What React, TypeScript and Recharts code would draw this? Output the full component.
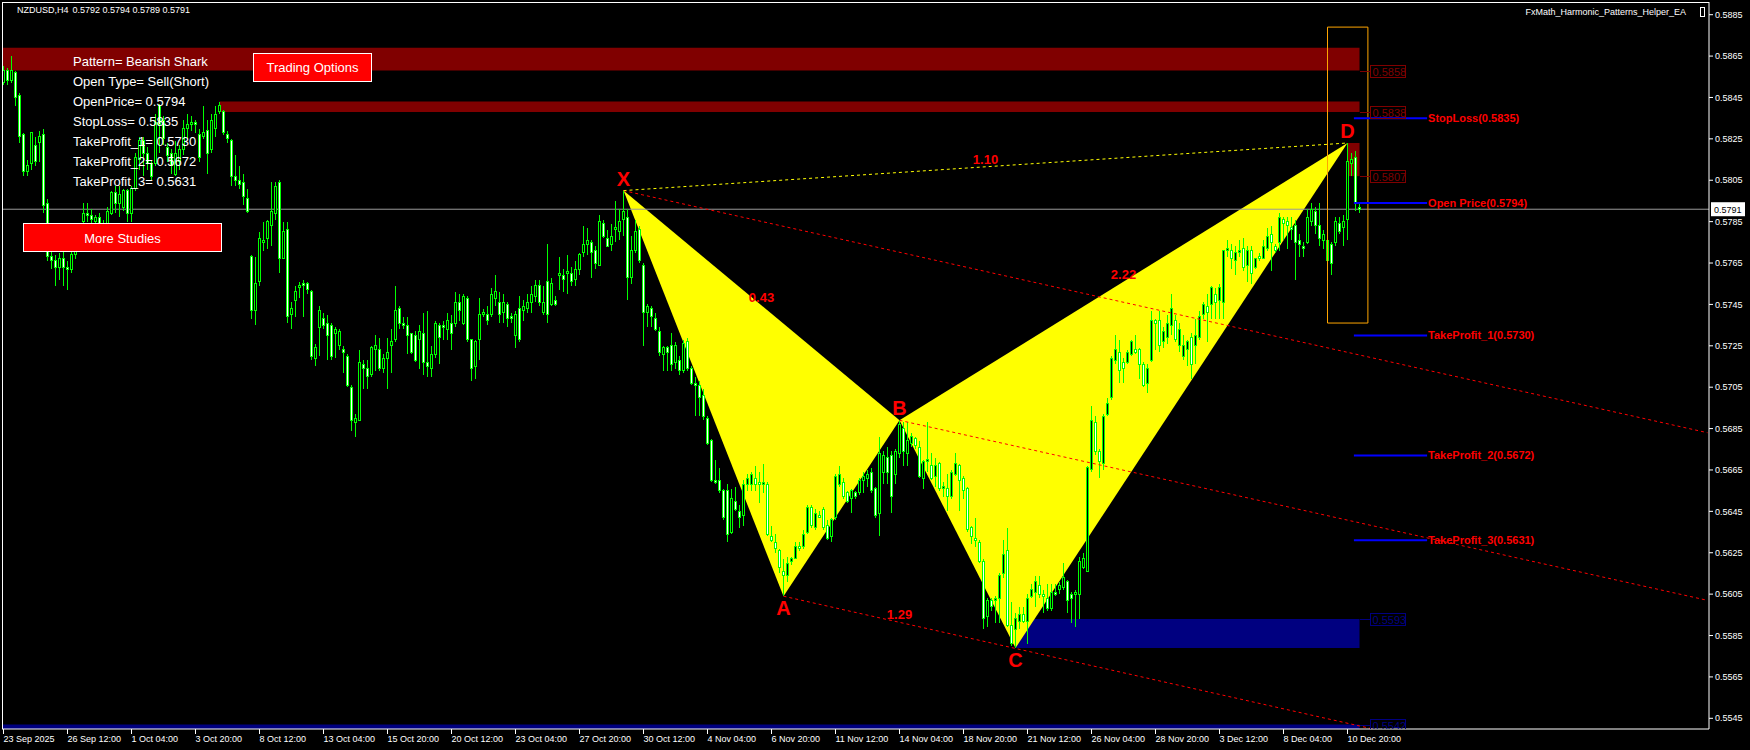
import React from 'react';
import { ComposedChart, Bar, Scatter, XAxis, YAxis, ReferenceArea, ReferenceLine } from 'recharts';

// NZDUSD H4, prices in 1/10000 (5792 = 0.5792)
const dateLabels = [
  '23 Sep 2025', '26 Sep 12:00', '1 Oct 04:00', '3 Oct 20:00', '8 Oct 12:00', '13 Oct 04:00',
  '15 Oct 20:00', '20 Oct 12:00', '23 Oct 04:00', '27 Oct 20:00', '30 Oct 12:00', '4 Nov 04:00',
  '6 Nov 20:00', '11 Nov 12:00', '14 Nov 04:00', '18 Nov 20:00', '21 Nov 12:00', '26 Nov 04:00',
  '28 Nov 20:00', '3 Dec 12:00', '8 Dec 04:00', '10 Dec 20:00',
];
const priceTicks = [5545, 5565, 5585, 5605, 5625, 5645, 5665, 5685, 5705, 5725, 5745, 5765, 5785, 5805, 5825, 5845, 5865, 5885];

const opens = [
  5852,5858,5853,5857,5846,5827,5809,5813,5822,5823,5827,5794,5768,5766,5763,5767,5763,5762,5769,5776,
  5785,5789,5788,5785,5787,5783,5784,5789,5799,5794,5792,5800,5789,5801,5815,5824,5818,5813,5813,5841,
  5834,5821,5818,5808,5814,5820,5830,5832,5833,5827,5826,5829,5820,5830,5838,5838,5827,5824,5807,5805,
  5804,5796,5768,5742,5756,5775,5777,5783,5789,5804,5767,5781,5740,5747,5753,5755,5755,5751,5719,5734,
  5738,5736,5735,5731,5725,5723,5720,5705,5688,5689,5716,5714,5711,5723,5723,5714,5719,5725,5728,5743,
  5736,5735,5731,5730,5728,5731,5717,5714,5721,5735,5735,5733,5736,5736,5746,5736,5748,5728,5715,5728,
  5740,5740,5740,5748,5746,5741,5745,5739,5730,5743,5742,5743,5746,5749,5754,5741,5756,5745,5747,5759,
  5759,5760,5760,5757,5762,5770,5774,5775,5771,5764,5784,5777,5774,5781,5780,5786,5787,5758,5771,5781,
  5764,5741,5743,5738,5732,5721,5724,5725,5717,5718,5713,5727,5714,5707,5706,5701,5690,5679,5660,5660,
  5655,5655,5635,5650,5645,5643,5658,5658,5661,5659,5658,5658,5633,5630,5626,5616,5614,5621,5622,5628,
  5628,5635,5647,5637,5643,5646,5638,5633,5642,5658,5659,5654,5651,5654,5654,5660,5661,5664,5656,5644,
  5664,5671,5672,5663,5673,5685,5673,5678,5680,5676,5661,5669,5667,5662,5668,5656,5656,5652,5663,5667,
  5661,5656,5637,5632,5630,5621,5594,5602,5602,5603,5615,5626,5590,5588,5592,5595,5592,5604,5606,5609,
  5605,5603,5598,5606,5607,5608,5611,5605,5605,5605,5618,5616,5665,5688,5674,5668,5692,5700,5718,5722,
  5717,5717,5721,5723,5723,5716,5707,5718,5737,5737,5727,5729,5735,5737,5725,5720,5723,5729,5725,5729,
  5740,5744,5745,5750,5747,5746,5771,5771,5766,5770,5772,5764,5771,5763,5768,5767,5772,5779,5773,5775,
  5786,5785,5782,5783,5776,5773,5775,5785,5790,5783,5776,5766,5774,5775,5784,5782,5786,5813,5816,5792,
];
const highs = [
  5860,5859,5865,5858,5847,5828,5815,5828,5826,5829,5830,5796,5772,5769,5770,5772,5766,5771,5778,5782,
  5794,5794,5791,5788,5789,5786,5792,5800,5802,5802,5801,5801,5802,5818,5826,5826,5821,5815,5837,5842,
  5836,5823,5820,5824,5822,5834,5837,5836,5834,5830,5841,5834,5837,5841,5843,5839,5829,5825,5817,5812,
  5808,5801,5769,5768,5780,5785,5786,5804,5804,5805,5785,5785,5746,5754,5756,5757,5756,5752,5726,5744,
  5741,5740,5736,5734,5733,5725,5721,5706,5692,5723,5718,5718,5725,5730,5729,5721,5729,5733,5754,5744,
  5739,5739,5731,5732,5735,5741,5742,5725,5737,5736,5737,5741,5740,5751,5750,5750,5749,5728,5728,5748,
  5743,5744,5753,5759,5751,5750,5746,5741,5742,5749,5747,5750,5754,5757,5757,5754,5774,5758,5749,5768,
  5762,5769,5763,5766,5770,5783,5782,5776,5773,5788,5786,5781,5784,5795,5791,5800,5791,5778,5786,5783,
  5765,5745,5744,5741,5734,5725,5725,5731,5727,5720,5728,5729,5715,5710,5708,5704,5691,5680,5670,5666,
  5656,5658,5656,5657,5648,5660,5663,5664,5667,5664,5668,5659,5638,5634,5627,5622,5623,5623,5630,5630,
  5636,5648,5648,5646,5645,5647,5641,5642,5663,5667,5661,5655,5656,5655,5661,5664,5665,5666,5657,5681,
  5674,5676,5674,5675,5689,5688,5688,5683,5681,5679,5670,5688,5673,5671,5669,5659,5663,5665,5673,5668,
  5662,5657,5638,5642,5631,5622,5603,5603,5604,5615,5631,5637,5601,5596,5599,5599,5605,5610,5614,5614,
  5607,5610,5610,5610,5611,5620,5612,5606,5607,5623,5625,5667,5696,5691,5675,5692,5700,5720,5730,5728,
  5719,5723,5728,5730,5724,5717,5716,5742,5738,5742,5734,5740,5750,5740,5736,5730,5728,5731,5738,5742,
  5746,5750,5754,5753,5755,5771,5776,5774,5773,5776,5777,5773,5773,5767,5770,5776,5782,5783,5774,5789,
  5787,5787,5787,5786,5779,5775,5791,5794,5792,5794,5781,5777,5775,5787,5787,5788,5823,5818,5819,5794,
];
const lows = [
  5851,5851,5852,5841,5823,5807,5807,5810,5812,5814,5789,5766,5762,5754,5757,5754,5752,5760,5767,5773,
  5776,5785,5783,5783,5780,5779,5783,5788,5789,5787,5790,5785,5785,5800,5810,5807,5810,5805,5812,5818,
  5822,5814,5808,5807,5810,5817,5825,5829,5828,5814,5825,5808,5818,5826,5837,5827,5823,5802,5802,5801,
  5793,5789,5738,5735,5754,5771,5772,5773,5786,5760,5767,5736,5733,5739,5748,5739,5750,5718,5715,5720,
  5733,5718,5718,5719,5723,5712,5705,5684,5681,5689,5704,5704,5710,5713,5713,5712,5704,5712,5727,5733,
  5733,5721,5721,5717,5714,5711,5710,5710,5719,5716,5728,5728,5723,5734,5737,5735,5727,5708,5709,5718,
  5739,5735,5739,5744,5736,5736,5734,5736,5724,5727,5737,5741,5741,5746,5744,5740,5736,5744,5744,5752,
  5751,5750,5754,5754,5759,5768,5769,5758,5762,5764,5777,5773,5771,5775,5776,5778,5747,5755,5770,5765,
  5725,5734,5734,5732,5720,5713,5713,5713,5714,5711,5712,5713,5706,5691,5691,5689,5677,5659,5658,5654,
  5641,5630,5634,5645,5637,5638,5655,5655,5655,5649,5654,5633,5630,5625,5615,5604,5611,5619,5622,5626,
  5627,5634,5637,5636,5642,5636,5631,5630,5641,5657,5651,5649,5644,5651,5653,5654,5657,5654,5642,5633,
  5658,5658,5644,5658,5671,5667,5667,5676,5675,5661,5656,5664,5660,5657,5655,5652,5645,5651,5662,5645,
  5651,5635,5629,5628,5620,5588,5589,5597,5591,5591,5613,5589,5580,5579,5588,5591,5581,5603,5599,5603,
  5596,5597,5597,5604,5605,5607,5596,5591,5589,5593,5617,5616,5664,5672,5661,5665,5691,5699,5716,5707,
  5707,5716,5720,5721,5709,5705,5702,5717,5723,5722,5724,5726,5730,5727,5722,5718,5715,5709,5716,5728,
  5738,5727,5738,5738,5738,5738,5768,5762,5759,5768,5761,5756,5755,5762,5766,5767,5771,5761,5770,5771,
  5776,5772,5776,5757,5768,5768,5774,5783,5779,5773,5772,5765,5759,5773,5779,5773,5776,5807,5790,5789,
];
const closes = [
  5858,5853,5858,5845,5826,5809,5812,5828,5814,5826,5793,5768,5766,5763,5767,5763,5762,5769,5776,5778,
  5789,5788,5786,5787,5783,5782,5790,5799,5794,5798,5800,5789,5801,5816,5824,5818,5813,5807,5833,5832,
  5825,5817,5812,5818,5820,5830,5832,5833,5832,5816,5828,5818,5834,5837,5841,5828,5825,5807,5805,5803,
  5797,5790,5742,5755,5777,5776,5785,5790,5802,5767,5780,5739,5743,5751,5754,5754,5752,5720,5724,5742,
  5735,5730,5720,5733,5732,5722,5706,5689,5690,5717,5714,5710,5724,5725,5714,5719,5722,5727,5742,5736,
  5735,5730,5722,5718,5732,5717,5715,5721,5736,5729,5734,5737,5731,5746,5742,5749,5728,5714,5727,5740,
  5741,5737,5750,5751,5740,5746,5738,5738,5740,5728,5744,5746,5750,5754,5746,5746,5740,5755,5745,5760,
  5757,5761,5756,5762,5769,5774,5776,5770,5765,5785,5778,5773,5778,5782,5785,5790,5758,5771,5780,5766,
  5741,5744,5739,5733,5722,5724,5722,5716,5725,5713,5726,5714,5707,5706,5700,5691,5678,5660,5659,5655,
  5642,5634,5651,5646,5642,5658,5661,5663,5658,5658,5659,5634,5631,5627,5618,5614,5620,5622,5628,5627,
  5634,5647,5638,5644,5642,5637,5632,5641,5662,5663,5652,5650,5655,5652,5660,5662,5663,5655,5643,5673,
  5672,5664,5652,5674,5687,5674,5679,5681,5677,5662,5669,5670,5661,5667,5656,5657,5652,5664,5668,5660,
  5655,5636,5633,5631,5621,5593,5602,5599,5603,5614,5624,5590,5581,5593,5595,5592,5603,5607,5611,5605,
  5604,5598,5606,5605,5609,5613,5602,5603,5606,5621,5622,5666,5689,5674,5669,5691,5697,5719,5723,5713,
  5714,5722,5727,5722,5716,5706,5714,5737,5736,5725,5732,5736,5743,5728,5733,5725,5727,5716,5730,5739,
  5745,5741,5753,5746,5753,5771,5772,5767,5770,5771,5763,5771,5760,5767,5767,5773,5778,5775,5771,5787,
  5784,5783,5781,5775,5774,5772,5787,5791,5783,5777,5779,5776,5765,5785,5780,5785,5814,5815,5794,5791,
];

// harmonic pattern points
const patternNames = ['X', 'A', 'B', 'C', 'D'];
const patternBars = [155, 195, 224, 253, 336];
const patternPrices = [5800, 5604, 5689, 5579, 5823];
const ratioLabels = ['0.43', '2.22', '1.29', '1.10'];
const ratioLegs = [[0, 2], [2, 4], [1, 3], [0, 4]];

// channel lines: start point index, end bar, end price
const channelStarts = [0, 2, 1];
const channelEndBars = [426, 426, 342];
const channelEndPrices = [5683, 5602, 5540];

// trade levels
const levelNames = ['StopLoss', 'Open Price', 'TakeProfit_1', 'TakeProfit_2', 'TakeProfit_3'];
const levelPrices = [5835, 5794, 5730, 5672, 5631];
const bidPrice = 5791;

// zones [low, high] and first bar
const redZones = [[5858, 5869], [5838, 5843], [5807, 5823]];
const redZoneStart = [-0.125, 54, 336];
const blueZones = [[5579, 5593], [5530, 5542]];
const blueZoneStart = [253, -0.125];
const boxRange = [331, 341.1, 5736, 5879];

const panelLines = [
  'Pattern= Bearish Shark',
  'Open Type= Sell(Short)',
  'OpenPrice= 0.5794',
  'StopLoss= 0.5835',
  'TakeProfit_1= 0.5730',
  'TakeProfit_2= 0.5672',
  'TakeProfit_3= 0.5631',
];

const fmt = (v: number) => (v / 10000).toFixed(4);
const FONT = 'Liberation Sans';
const lastBar = closes.length - 1;
const labelBar = 341.6;

const candles = closes.map((c, i) => ({ t: i, o: opens[i], h: highs[i], l: lows[i], c }));
const pts = patternNames.map((name, i) => ({ t: patternBars[i], p: patternPrices[i], name, below: i % 2 === 1 }));
const triXAB = [pts[0], pts[1], pts[2]];
const triBCD = [pts[2], pts[3], pts[4]];
const ratioRows = ratioLabels.map((text, i) => {
  const [a, b] = ratioLegs[i];
  return { t: (pts[a].t + pts[b].t) / 2, p: (pts[a].p + pts[b].p) / 2, text };
});
const redBoxes = redZones.map((z) => ({ t: labelBar, p: z[0] }));
const blueBoxes = blueZones.map((z) => ({ t: labelBar, p: z[1] }));

const Candle = (props: any) => {
  const { x, y, width, height, payload } = props;
  if (!payload || !isFinite(y) || !isFinite(height)) return null;
  const cx = Math.round(x + width / 2 - 0.5) + 0.5;
  const k = payload.h > payload.l ? height / (payload.h - payload.l) : 0;
  const top = y + (payload.h - Math.max(payload.o, payload.c)) * k;
  const bot = y + (payload.h - Math.min(payload.o, payload.c)) * k;
  const bull = payload.c >= payload.o;
  return (
    <g shapeRendering="crispEdges">
      <line x1={cx} x2={cx} y1={y} y2={y + height} stroke="#00ff00" />
      <rect x={cx - 1} y={top} width={2} height={Math.max(bot - top, 0.5)} fill={bull ? '#000000' : '#ffffff'} stroke="#00ff00" />
    </g>
  );
};

const Blank = () => <g />;

const Triangle = (props: any) => {
  const points = (props.points || []).map((p: any) => `${p.x},${p.y}`).join(' ');
  return <polygon points={points} fill="#ffff00" stroke="none" />;
};

const Letter = (p: any) => (
  <text x={p.cx} y={p.cy + (p.payload.below ? 19 : -5)} textAnchor="middle" fill="#ff0000"
    fontSize={20} fontWeight={700} fontFamily={FONT}>{p.payload.name}</text>
);

const Ratio = (p: any) => (
  <text x={p.cx} y={p.cy - 3} textAnchor="middle" fill="#ff0000" fontSize={13} fontWeight={700} fontFamily={FONT}>
    {p.payload.text}
  </text>
);

const makeBox = (color: string) => (p: any) => {
  const x = Math.round(p.cx) + 0.5;
  const y = Math.round(p.cy) + 0.5;
  return (
    <g shapeRendering="crispEdges">
      <line x1={x - 11} x2={x} y1={y} y2={y} stroke={color} />
      <rect x={x} y={y - 6} width={35} height={12} fill="none" stroke={color} />
      <text x={x + 2} y={y + 4} fill={color} fontSize={11} fontFamily={FONT}>{fmt(p.payload.p)}</text>
    </g>
  );
};
const RedBox = makeBox('#800000');
const BlueBox = makeBox('#000080');

const DateTick = (props: any) => {
  const { x, y, payload } = props;
  return (
    <text x={x} y={y + 6} fill="#ffffff" fontSize={9} fontFamily={FONT} textAnchor="start">
      {dateLabels[Math.round(payload.value / 16)]}
    </text>
  );
};

const BidLabel = (props: any) => {
  const vb = props.viewBox || {};
  const x = vb.x + vb.width + 2;
  const y = vb.y;
  return (
    <g>
      <rect x={x} y={y - 7} width={34} height={14} fill="#ffffff" />
      <text x={x + 3} y={y + 3.5} fill="#000000" fontSize={9} fontFamily={FONT}>{fmt(bidPrice)}</text>
    </g>
  );
};

export default function App() {
  const last = candles[lastBar];
  return (
    <div style={{ position: 'absolute', left: 0, top: 0, width: 1750, height: 750, background: '#000', overflow: 'hidden' }}>
      <ComposedChart width={1750} height={750} data={candles} margin={{ top: 3, right: 0, bottom: 0, left: 3 }}>
        <XAxis dataKey="t" type="number" domain={[-0.125, 426.375]} allowDataOverflow
          ticks={dateLabels.map((_, k) => k * 16)} interval={0} height={21}
          axisLine={{ stroke: '#ffffff' }} tickLine={{ stroke: '#ffffff' }} tickSize={5} tickMargin={2}
          tick={<DateTick />} />
        <YAxis orientation="right" type="number" domain={[5539.83, 5890.65]} allowDataOverflow
          ticks={priceTicks} interval={0} width={41}
          axisLine={{ stroke: '#ffffff' }} tickLine={{ stroke: '#ffffff' }} tickSize={4} tickMargin={2}
          tick={{ fill: '#ffffff', fontSize: 9, fontFamily: FONT }} tickFormatter={(v: number) => fmt(v)} />

        {redZones.map((z, i) => (
          <ReferenceArea key={`rz${i}`} x1={redZoneStart[i]} x2={lastBar} y1={z[0]} y2={z[1]}
            fill="#800000" fillOpacity={1} stroke="none" ifOverflow="hidden" zIndex={50} />
        ))}
        {blueZones.map((z, i) => (
          <ReferenceArea key={`bz${i}`} x1={blueZoneStart[i]} x2={lastBar} y1={z[0]} y2={z[1]}
            fill="#000080" fillOpacity={1} stroke="none" ifOverflow="hidden" zIndex={50} />
        ))}

        <Scatter data={triXAB} dataKey="p" shape={Blank} line={Triangle} lineType="joint" isAnimationActive={false} zIndex={150} />
        <Scatter data={triBCD} dataKey="p" shape={Blank} line={Triangle} lineType="joint" isAnimationActive={false} zIndex={150} />

        <ReferenceLine y={bidPrice} stroke="#9a9a9a" strokeWidth={1} label={BidLabel} zIndex={250} />

        <Bar dataKey={(d: any) => [d.l, d.h]} shape={Candle} isAnimationActive={false} zIndex={300} />

        {channelStarts.map((s, i) => (
          <ReferenceLine key={`ch${i}`} segment={[{ x: pts[s].t, y: pts[s].p }, { x: channelEndBars[i], y: channelEndPrices[i] }]}
            stroke="#ff0000" strokeDasharray="3 3" ifOverflow="hidden" zIndex={400} />
        ))}
        <ReferenceLine segment={[{ x: pts[0].t, y: pts[0].p }, { x: pts[4].t, y: pts[4].p }]}
          stroke="#ffff00" strokeDasharray="3 3" zIndex={400} />

        <ReferenceArea x1={boxRange[0]} x2={boxRange[1]} y1={boxRange[2]} y2={boxRange[3]}
          fill="none" stroke="#ffa500" strokeWidth={1} zIndex={450} />

        {levelPrices.map((p, i) => (
          <ReferenceLine key={`lv${i}`} segment={[{ x: 337.6, y: p }, { x: 355.9, y: p }]}
            stroke="#0000ff" strokeWidth={2} ifOverflow="visible" zIndex={450}
            label={{ value: `${levelNames[i]}(${fmt(p)})`, position: 'right', offset: 1, fill: '#ff0000',
              fontSize: 11, fontWeight: 700, fontFamily: FONT }} />
        ))}

        <Scatter data={redBoxes} dataKey="p" shape={RedBox} isAnimationActive={false} zIndex={600} />
        <Scatter data={blueBoxes} dataKey="p" shape={BlueBox} isAnimationActive={false} zIndex={600} />
        <Scatter data={pts} dataKey="p" shape={Letter} isAnimationActive={false} zIndex={600} />
        <Scatter data={ratioRows} dataKey="p" shape={Ratio} isAnimationActive={false} zIndex={600} />
      </ComposedChart>

      <svg width={1750} height={750} style={{ position: 'absolute', left: 0, top: 0, pointerEvents: 'none' }} fontFamily={FONT}>
        <line x1={2.5} y1={2} x2={2.5} y2={729.5} stroke="#ffffff" />
        <line x1={2} y1={2.5} x2={1709.5} y2={2.5} stroke="#ffffff" />
        <text x={17} y={13} fill="#ffffff" fontSize={9}>NZDUSD,H4</text>
        <text x={72.5} y={13} fill="#ffffff" fontSize={9}>
          {`${fmt(last.o)} ${fmt(last.h)} ${fmt(last.l)} ${fmt(last.c)}`}
        </text>
        <text x={1686} y={15} textAnchor="end" fill="#ffffff" fontSize={9}>FxMath_Harmonic_Patterns_Helper_EA</text>
        <rect x={1700.5} y={7.5} width={4} height={9} fill="none" stroke="#ffffff" />
        {panelLines.map((s, i) => (
          <text key={s} x={73} y={66 + 20 * i} fill="#ffffff" fontSize={13}>{s}</text>
        ))}
        <rect x={253.5} y={53.5} width={118} height={28} fill="#ff0000" stroke="#ffffff" />
        <text x={312.5} y={72} textAnchor="middle" fill="#ffffff" fontSize={13}>Trading Options</text>
        <rect x={23.5} y={223.5} width={198} height={28} fill="#ff0000" stroke="#ffffff" />
        <text x={122.5} y={243} textAnchor="middle" fill="#ffffff" fontSize={13}>More Studies</text>
      </svg>
    </div>
  );
}
